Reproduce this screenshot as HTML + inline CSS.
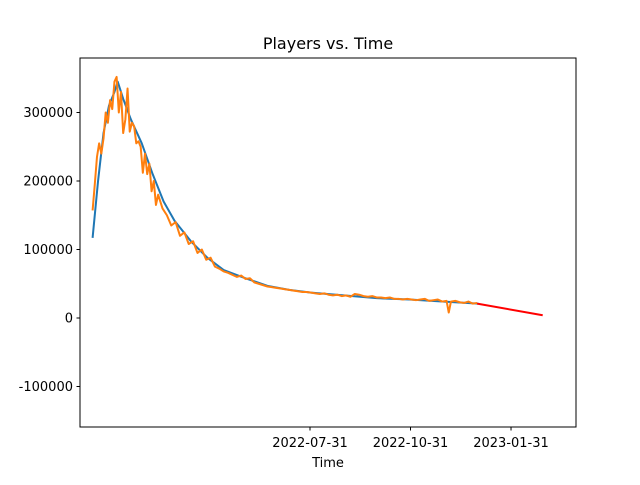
<!DOCTYPE html>
<html><head><meta charset="utf-8"><style>
body{margin:0;background:#fff}
svg text{font-family:"DejaVu Sans","Liberation Sans",sans-serif;fill:#000}
</style></head><body>
<svg id="chart" width="640" height="480" xmlns="http://www.w3.org/2000/svg">
<rect width="640" height="480" fill="#fff"/>
<text x="328" y="49" font-size="16" text-anchor="middle">Players vs. Time</text>
<text x="328" y="467" font-size="13" text-anchor="middle">Time</text>
<text transform="translate(-8,245) rotate(-90)" font-size="13" text-anchor="middle">Players</text>
<g id="plot"></g>
<rect x="80" y="58" width="496" height="369" fill="none" stroke="#000" stroke-width="1"/>
</svg>
<script>
const blueDays=[0,5,10,15,20,23,28,35,45,55,65,75,90,105,120,140,160,180,200,230,260,290,320,353];
const blueVals=[117,200,270,310,330,345,320,290,255,210,170,142,112,88,70,58,47,41,37,33,29,27,24,21];
const orangeDays=[0,2,4,6,8,10,12,14,16,18,20,22,24,26,28,30,32,34,36,38,40,42,44,46,48,50,52,54,56,58,60,
64,68,72,76,80,84,88,92,96,100,104,108,112,116,120,124,128,132,136,140,144,148,152,156,160,164,168,172,176,180,184,188,192,196,200,204,208,212,216,220,224,228,232,236,240,244,248,252,256,260,264,268,272,276,280,284,288,292,296,300,304,308,312,316,320,324,326,328,332,336,340,344,348,352];
const orangeVals=[157,195,235,255,240,262,300,285,318,305,345,352,300,330,270,290,335,272,285,280,255,258,250,212,240,210,225,185,200,165,180,
160,150,135,140,120,125,108,112,95,100,85,88,75,72,68,66,63,60,62,57,58,52,50,48,46,45,44,43,42,41,40,39,38,38,37,36,35,36,34,33,34,32,33,31,35,34,32,31,32,30,30,29,30,28,28,27,28,27,26,27,28,25,26,27,24,25,8,24,25,23,22,24,21,22];
const redDays=[352,412];
const redVals=[21,4];
const yTicks=[-100000,0,100000,200000,300000];
const xTickDays=[199,291,383];
const xTickLabels=["2022-07-31","2022-10-31","2023-01-31"];
const NS="http://www.w3.org/2000/svg";
const xs=d=>310+(d-199)*1.0925;
const ys=k=>318-k*0.685;
const g=document.getElementById('plot');
function mk(t,a){const e=document.createElementNS(NS,t);for(const k in a)e.setAttribute(k,a[k]);g.appendChild(e);return e;}
yTicks.forEach(v=>{const y=ys(v/1000);
const l=mk('line',{x1:76.5,x2:80,y1:y,y2:y,stroke:'#000'});


const t=mk('text',{x:73,y:y+4.5,'font-size':13,'text-anchor':'end'});t.textContent=String(v);

});
xTickDays.forEach((d,i)=>{const x=xs(d);
const l=mk('line',{x1:x,x2:x,y1:427,y2:430.5,stroke:'#000'});


const t=mk('text',{x:x,y:447,'font-size':13,'text-anchor':'middle'});t.textContent=xTickLabels[i];

});
function line(days,vals,col,name){const p=mk('polyline',{points:days.map((d,i)=>xs(d)+','+ys(vals[i])).join(' '),fill:'none',stroke:col,'stroke-width':2,'stroke-linejoin':'round'});

}
line(blueDays,blueVals,'#1f77b4','trend-line');
line(orangeDays,orangeVals,'#ff7f0e','players-line');
line(redDays,redVals,'#ff0000','forecast-line');
</script>
</body></html>
